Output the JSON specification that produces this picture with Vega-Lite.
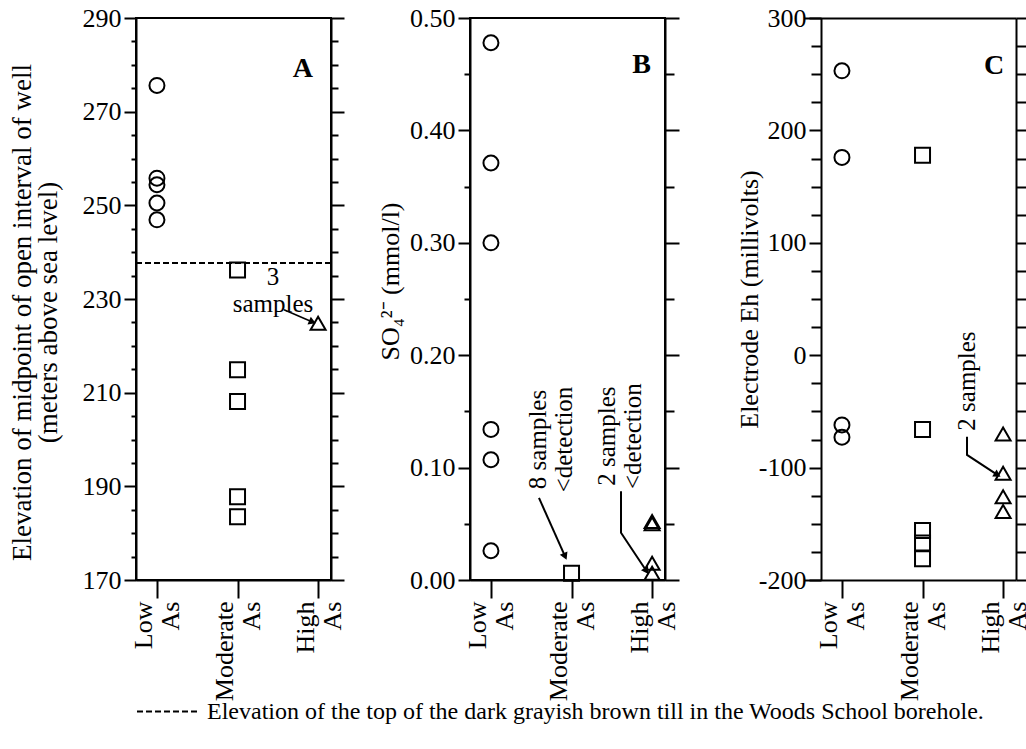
{
  "$schema": "https://vega.github.io/schema/vega-lite/v6.json",
  "background": "white",
  "padding": {"left": 7, "top": 4, "right": 0, "bottom": 0},
  "datasets": {
    "points": [
      {"panel": "A", "group": "Low As", "pos": 0, "value": 275.6},
      {"panel": "A", "group": "Low As", "pos": 0, "value": 255.8},
      {"panel": "A", "group": "Low As", "pos": 0, "value": 254.4},
      {"panel": "A", "group": "Low As", "pos": 0, "value": 250.5},
      {"panel": "A", "group": "Low As", "pos": 0, "value": 246.9},
      {"panel": "A", "group": "Moderate As", "pos": 1, "value": 236.2},
      {"panel": "A", "group": "Moderate As", "pos": 1, "value": 214.9},
      {"panel": "A", "group": "Moderate As", "pos": 1, "value": 208.1},
      {"panel": "A", "group": "Moderate As", "pos": 1, "value": 187.8},
      {"panel": "A", "group": "Moderate As", "pos": 1, "value": 183.5},
      {"panel": "A", "group": "High As", "pos": 2, "value": 224.8},
      {"panel": "B", "group": "Low As", "pos": 0, "value": 0.478},
      {"panel": "B", "group": "Low As", "pos": 0, "value": 0.371},
      {"panel": "B", "group": "Low As", "pos": 0, "value": 0.300},
      {"panel": "B", "group": "Low As", "pos": 0, "value": 0.134},
      {"panel": "B", "group": "Low As", "pos": 0, "value": 0.107},
      {"panel": "B", "group": "Low As", "pos": 0, "value": 0.026},
      {"panel": "B", "group": "Moderate As", "pos": 1, "value": 0.006},
      {"panel": "B", "group": "High As", "pos": 2, "value": 0.052},
      {"panel": "B", "group": "High As", "pos": 2, "value": 0.050},
      {"panel": "B", "group": "High As", "pos": 2, "value": 0.015},
      {"panel": "B", "group": "High As", "pos": 2, "value": 0.006},
      {"panel": "C", "group": "Low As", "pos": 0, "value": 253},
      {"panel": "C", "group": "Low As", "pos": 0, "value": 176},
      {"panel": "C", "group": "Low As", "pos": 0, "value": -62},
      {"panel": "C", "group": "Low As", "pos": 0, "value": -73},
      {"panel": "C", "group": "Moderate As", "pos": 1, "value": 178},
      {"panel": "C", "group": "Moderate As", "pos": 1, "value": -66},
      {"panel": "C", "group": "Moderate As", "pos": 1, "value": -156},
      {"panel": "C", "group": "Moderate As", "pos": 1, "value": -167},
      {"panel": "C", "group": "Moderate As", "pos": 1, "value": -181},
      {"panel": "C", "group": "High As", "pos": 2, "value": -70},
      {"panel": "C", "group": "High As", "pos": 2, "value": -105},
      {"panel": "C", "group": "High As", "pos": 2, "value": -126},
      {"panel": "C", "group": "High As", "pos": 2, "value": -139}
    ],
    "notes": [
      {"panel": "A", "pos": 1.44, "value": 234.6, "text": "3\nsamples"},
      {"panel": "B", "pos": 0.59, "value": 0.125, "text": "8 samples\n<detection"},
      {"panel": "B", "pos": 1.446, "value": 0.128, "text": "2 samples\n<detection"},
      {"panel": "C", "pos": 1.552, "value": -23, "text": "2 samples"}
    ],
    "letters": [
      {"panel": "A", "pos": 1.812, "value": 279.2, "text": "A"},
      {"panel": "B", "pos": 1.868, "value": 0.458, "text": "B"},
      {"panel": "C", "pos": 1.887, "value": 257.5, "text": "C"}
    ],
    "arrows": [
      {"panel": "A", "arrow": "a1", "step": 1, "pos": 1.577, "value": 227.7},
      {"panel": "A", "arrow": "a1", "step": 2, "pos": 1.93, "value": 225.1},
      {"panel": "B", "arrow": "b1", "step": 1, "pos": 0.596, "value": 0.073},
      {"panel": "B", "arrow": "b1", "step": 2, "pos": 0.92, "value": 0.021},
      {"panel": "B", "arrow": "b2", "step": 1, "pos": 1.614, "value": 0.079},
      {"panel": "B", "arrow": "b2", "step": 2, "pos": 1.614, "value": 0.042},
      {"panel": "B", "arrow": "b2", "step": 3, "pos": 1.93, "value": 0.008},
      {"panel": "C", "arrow": "c1", "step": 1, "pos": 1.552, "value": -72.5},
      {"panel": "C", "arrow": "c1", "step": 2, "pos": 1.552, "value": -88.7},
      {"panel": "C", "arrow": "c1", "step": 3, "pos": 1.93, "value": -106.5}
    ],
    "heads": [
      {"panel": "A", "pos": 1.93, "value": 225.1, "dir": 23},
      {"panel": "B", "pos": 0.92, "value": 0.021, "dir": 66},
      {"panel": "B", "pos": 1.93, "value": 0.008, "dir": 57},
      {"panel": "C", "pos": 1.93, "value": -106.5, "dir": 32}
    ],
    "till": [
      {"panel": "A", "value": 237.7, "label": "Elevation of the top of the dark grayish brown till in the Woods School borehole."}
    ]
  },
  "hconcat": [
    {
      "width": 195,
      "height": 562,
      "resolve": {"axis": {"x": "independent", "y": "independent"}},
      "layer": [
        {
          "data": {"name": "points"},
          "transform": [{"filter": "datum.panel == 'A'"}],
          "mark": {"type": "point", "filled": false, "color": "black", "strokeWidth": 2, "size": 225, "opacity": 1},
          "encoding": {
            "x": {"field": "pos", "type": "quantitative", "scale": {"domain": [-0.26, 2.16], "nice": false, "zero": false},
              "axis": {"orient": "bottom", "values": [0, 1, 2], "labelExpr": "datum.value == 0 ? ['Low', 'As'] : datum.value == 1 ? ['Moderate', 'As'] : ['High', 'As']", "tickSize": 18, "labelAngle": 270, "labelAlign": "right", "labelBaseline": "middle", "labelPadding": 3, "labelOffset": -13, "labelLineHeight": 27, "labelFlush": false, "labelOverlap": false, "title": null}},
            "y": {"field": "value", "type": "quantitative", "scale": {"domain": [170, 290], "nice": false, "zero": false},
              "axis": {"orient": "left", "values": [170,175,180,185,190,195,200,205,210,215,220,225,230,235,240,245,250,255,260,265,270,275,280,285,290],
                "labelExpr": "datum.value % 20 == 10 ? '' + datum.value : ''",
                "tickSize": {"condition": {"test": "datum.value % 20 == 10", "value": 12}, "value": 5},
                "labelPadding": 3, "labelOverlap": false,
                "title": ["Elevation of midpoint of open interval of well", "(meters above sea level)"], "titlePadding": 20, "titleLineHeight": 26, "titleFontSize": 27, "titleY": 294}},
            "shape": {"field": "group", "type": "nominal", "scale": {"domain": ["Low As", "Moderate As", "High As"], "range": ["circle", "square", "triangle-up"]}, "legend": null}
          }
        },
        {
          "data": {"name": "till"},
          "mark": {"type": "rule", "color": "black", "strokeWidth": 2},
          "encoding": {
            "y": {"field": "value", "type": "quantitative", "scale": {"domain": [170, 290], "nice": false, "zero": false},
              "axis": {"orient": "right", "values": [170,175,180,185,190,195,200,205,210,215,220,225,230,235,240,245,250,255,260,265,270,275,280,285,290], "labels": false, "title": null,
                "tickSize": {"condition": {"test": "datum.value % 20 == 10", "value": 13}, "value": 7}}},
            "strokeDash": {"field": "label", "type": "nominal", "scale": {"range": [[6, 3]]},
              "legend": {"orient": "none", "legendX": 0, "legendY": 661, "title": null, "symbolType": "stroke", "symbolSize": 3969, "symbolStrokeWidth": 2, "symbolStrokeColor": "black", "labelFontSize": 24, "labelLimit": 2000, "labelOffset": 6, "labelColor": "black", "labelFont": "Liberation Serif"}}
          }
        },
        {
          "data": {"name": "notes"},
          "transform": [{"filter": "datum.panel == 'A'"}],
          "mark": {"type": "text", "fontSize": 25, "lineBreak": "\n", "lineHeight": 27, "align": "center", "baseline": "middle", "color": "black"},
          "encoding": {
            "x": {"field": "pos", "type": "quantitative", "scale": {"domain": [-0.26, 2.16], "nice": false, "zero": false}, "axis": null},
            "y": {"field": "value", "type": "quantitative", "scale": {"domain": [170, 290], "nice": false, "zero": false}, "axis": null},
            "text": {"field": "text"}
          }
        },
        {
          "data": {"name": "letters"},
          "transform": [{"filter": "datum.panel == 'A'"}],
          "mark": {"type": "text", "fontSize": 28, "fontWeight": "bold", "align": "center", "baseline": "middle", "color": "black"},
          "encoding": {
            "x": {"field": "pos", "type": "quantitative", "scale": {"domain": [-0.26, 2.16], "nice": false, "zero": false}, "axis": null},
            "y": {"field": "value", "type": "quantitative", "scale": {"domain": [170, 290], "nice": false, "zero": false}, "axis": null},
            "text": {"field": "text"}
          }
        },
        {
          "data": {"name": "arrows"},
          "transform": [{"filter": "datum.panel == 'A'"}],
          "mark": {"type": "line", "color": "black", "strokeWidth": 1.5},
          "encoding": {
            "x": {"field": "pos", "type": "quantitative", "scale": {"domain": [-0.26, 2.16], "nice": false, "zero": false}, "axis": null},
            "y": {"field": "value", "type": "quantitative", "scale": {"domain": [170, 290], "nice": false, "zero": false}, "axis": null},
            "detail": {"field": "arrow"},
            "order": {"field": "step"}
          }
        },
        {
          "data": {"name": "heads"},
          "transform": [{"filter": "datum.panel == 'A'"}],
          "mark": {"type": "point", "shape": "triangle-right", "filled": true, "color": "black", "size": 70, "opacity": 1},
          "encoding": {
            "x": {"field": "pos", "type": "quantitative", "scale": {"domain": [-0.26, 2.16], "nice": false, "zero": false}, "axis": null},
            "y": {"field": "value", "type": "quantitative", "scale": {"domain": [170, 290], "nice": false, "zero": false}, "axis": null},
            "angle": {"field": "dir", "type": "quantitative", "scale": null}
          }
        }
      ]
    },
    {
      "width": 195,
      "height": 562,
      "resolve": {"axis": {"x": "independent", "y": "independent"}},
      "layer": [
        {
          "data": {"name": "points"},
          "transform": [{"filter": "datum.panel == 'B'"}],
          "mark": {"type": "point", "filled": false, "color": "black", "strokeWidth": 2, "size": 225, "opacity": 1},
          "encoding": {
            "x": {"field": "pos", "type": "quantitative", "scale": {"domain": [-0.26, 2.16], "nice": false, "zero": false},
              "axis": {"orient": "bottom", "values": [0, 1, 2], "labelExpr": "datum.value == 0 ? ['Low', 'As'] : datum.value == 1 ? ['Moderate', 'As'] : ['High', 'As']", "tickSize": 18, "labelAngle": 270, "labelAlign": "right", "labelBaseline": "middle", "labelPadding": 3, "labelOffset": -13, "labelLineHeight": 27, "labelFlush": false, "labelOverlap": false, "title": null}},
            "y": {"field": "value", "type": "quantitative", "scale": {"domain": [0, 0.5], "nice": false, "zero": false},
              "axis": {"orient": "left", "values": [0, 0.05, 0.1, 0.15, 0.2, 0.25, 0.3, 0.35, 0.4, 0.45, 0.5],
                "labelExpr": "round(datum.value * 100) % 10 == 0 ? format(datum.value, '.2f') : ''",
                "tickSize": {"condition": {"test": "round(datum.value * 100) % 10 == 0", "value": 12}, "value": 6},
                "labelPadding": 3, "labelOverlap": false,
                "title": "SO₄²⁻ (mmol/l)", "titlePadding": 6, "titleY": 263}},
            "shape": {"field": "group", "type": "nominal", "scale": {"domain": ["Low As", "Moderate As", "High As"], "range": ["circle", "square", "triangle-up"]}, "legend": null}
          }
        },
        {
          "data": {"name": "notes"},
          "transform": [{"filter": "datum.panel == 'B'"}],
          "mark": {"type": "text", "fontSize": 25, "lineBreak": "\n", "lineHeight": 26, "align": "center", "baseline": "middle", "angle": 270, "color": "black"},
          "encoding": {
            "x": {"field": "pos", "type": "quantitative", "scale": {"domain": [-0.26, 2.16], "nice": false, "zero": false}, "axis": null},
            "y": {"field": "value", "type": "quantitative", "scale": {"domain": [0, 0.5], "nice": false, "zero": false},
              "axis": {"orient": "right", "values": [0, 0.05, 0.1, 0.15, 0.2, 0.25, 0.3, 0.35, 0.4, 0.45, 0.5], "labels": false, "title": null,
                "tickSize": {"condition": {"test": "round(datum.value * 100) % 10 == 0", "value": 14}, "value": 9}}},
            "text": {"field": "text"}
          }
        },
        {
          "data": {"name": "letters"},
          "transform": [{"filter": "datum.panel == 'B'"}],
          "mark": {"type": "text", "fontSize": 28, "fontWeight": "bold", "align": "center", "baseline": "middle", "color": "black"},
          "encoding": {
            "x": {"field": "pos", "type": "quantitative", "scale": {"domain": [-0.26, 2.16], "nice": false, "zero": false}, "axis": null},
            "y": {"field": "value", "type": "quantitative", "scale": {"domain": [0, 0.5], "nice": false, "zero": false}, "axis": null},
            "text": {"field": "text"}
          }
        },
        {
          "data": {"name": "arrows"},
          "transform": [{"filter": "datum.panel == 'B'"}],
          "mark": {"type": "line", "color": "black", "strokeWidth": 2},
          "encoding": {
            "x": {"field": "pos", "type": "quantitative", "scale": {"domain": [-0.26, 2.16], "nice": false, "zero": false}, "axis": null},
            "y": {"field": "value", "type": "quantitative", "scale": {"domain": [0, 0.5], "nice": false, "zero": false}, "axis": null},
            "detail": {"field": "arrow"},
            "order": {"field": "step"}
          }
        },
        {
          "data": {"name": "heads"},
          "transform": [{"filter": "datum.panel == 'B'"}],
          "mark": {"type": "point", "shape": "triangle-right", "filled": true, "color": "black", "size": 70, "opacity": 1},
          "encoding": {
            "x": {"field": "pos", "type": "quantitative", "scale": {"domain": [-0.26, 2.16], "nice": false, "zero": false}, "axis": null},
            "y": {"field": "value", "type": "quantitative", "scale": {"domain": [0, 0.5], "nice": false, "zero": false}, "axis": null},
            "angle": {"field": "dir", "type": "quantitative", "scale": null}
          }
        }
      ]
    },
    {
      "width": 212,
      "height": 562,
      "view": {"stroke": null},
      "resolve": {"axis": {"x": "independent", "y": "independent"}},
      "layer": [
        {
          "data": {"name": "points"},
          "transform": [{"filter": "datum.panel == 'C'"}],
          "mark": {"type": "point", "filled": false, "color": "black", "strokeWidth": 2, "size": 225, "opacity": 1},
          "encoding": {
            "x": {"field": "pos", "type": "quantitative", "scale": {"domain": [-0.471, 2.16], "nice": false, "zero": false},
              "axis": {"orient": "bottom", "values": [0, 1, 2], "labelExpr": "datum.value == 0 ? ['Low', 'As'] : datum.value == 1 ? ['Moderate', 'As'] : ['High', 'As']", "tickSize": 18, "labelAngle": 270, "labelAlign": "right", "labelBaseline": "middle", "labelPadding": 3, "labelOffset": -13, "labelLineHeight": 27, "labelFlush": false, "labelOverlap": false, "title": null}},
            "y": {"field": "value", "type": "quantitative", "scale": {"domain": [-200, 300], "nice": false, "zero": false},
              "axis": {"orient": "left", "offset": -17, "values": [-200,-175,-150,-125,-100,-75,-50,-25,0,25,50,75,100,125,150,175,200,225,250,275,300],
                "labelExpr": "datum.value % 100 == 0 ? '' + datum.value : ''",
                "tickSize": {"condition": {"test": "datum.value % 100 == 0", "value": 12}, "value": 10},
                "labelPadding": 3, "labelOverlap": false,
                "title": "Electrode Eh (millivolts)", "titlePadding": -4}},
            "shape": {"field": "group", "type": "nominal", "scale": {"domain": ["Low As", "Moderate As", "High As"], "range": ["circle", "square", "triangle-up"]}, "legend": null}
          }
        },
        {
          "data": {"name": "notes"},
          "transform": [{"filter": "datum.panel == 'C'"}],
          "mark": {"type": "text", "fontSize": 25, "align": "center", "baseline": "middle", "angle": 270, "color": "black"},
          "encoding": {
            "x": {"field": "pos", "type": "quantitative", "scale": {"domain": [-0.471, 2.16], "nice": false, "zero": false},
              "axis": {"orient": "top", "labels": false, "ticks": false, "title": null, "domain": true}},
            "y": {"field": "value", "type": "quantitative", "scale": {"domain": [-200, 300], "nice": false, "zero": false},
              "axis": {"orient": "right", "values": [-200,-175,-150,-125,-100,-75,-50,-25,0,25,50,75,100,125,150,175,200,225,250,275,300], "labels": false, "title": null, "tickSize": 10}},
            "text": {"field": "text"}
          }
        },
        {
          "data": {"name": "letters"},
          "transform": [{"filter": "datum.panel == 'C'"}],
          "mark": {"type": "text", "fontSize": 28, "fontWeight": "bold", "align": "center", "baseline": "middle", "color": "black"},
          "encoding": {
            "x": {"field": "pos", "type": "quantitative", "scale": {"domain": [-0.471, 2.16], "nice": false, "zero": false}, "axis": null},
            "y": {"field": "value", "type": "quantitative", "scale": {"domain": [-200, 300], "nice": false, "zero": false}, "axis": null},
            "text": {"field": "text"}
          }
        },
        {
          "data": {"name": "arrows"},
          "transform": [{"filter": "datum.panel == 'C'"}],
          "mark": {"type": "line", "color": "black", "strokeWidth": 2},
          "encoding": {
            "x": {"field": "pos", "type": "quantitative", "scale": {"domain": [-0.471, 2.16], "nice": false, "zero": false}, "axis": null},
            "y": {"field": "value", "type": "quantitative", "scale": {"domain": [-200, 300], "nice": false, "zero": false}, "axis": null},
            "detail": {"field": "arrow"},
            "order": {"field": "step"}
          }
        },
        {
          "data": {"name": "heads"},
          "transform": [{"filter": "datum.panel == 'C'"}],
          "mark": {"type": "point", "shape": "triangle-right", "filled": true, "color": "black", "size": 70, "opacity": 1},
          "encoding": {
            "x": {"field": "pos", "type": "quantitative", "scale": {"domain": [-0.471, 2.16], "nice": false, "zero": false}, "axis": null},
            "y": {"field": "value", "type": "quantitative", "scale": {"domain": [-200, 300], "nice": false, "zero": false}, "axis": null},
            "angle": {"field": "dir", "type": "quantitative", "scale": null}
          }
        }
      ]
    }
  ],
  "spacing": 139,
  "bounds": "flush",
  "config": {
    "font": "Liberation Serif",
    "view": {"stroke": "black", "strokeWidth": 2},
    "axis": {
      "domainColor": "black", "domainWidth": 2, "tickColor": "black", "tickWidth": 2,
      "labelColor": "black", "titleColor": "black", "labelFontSize": 26, "titleFontSize": 26,
      "titleFontWeight": "normal", "grid": false, "labelFont": "Liberation Serif", "titleFont": "Liberation Serif"
    }
  }
}
